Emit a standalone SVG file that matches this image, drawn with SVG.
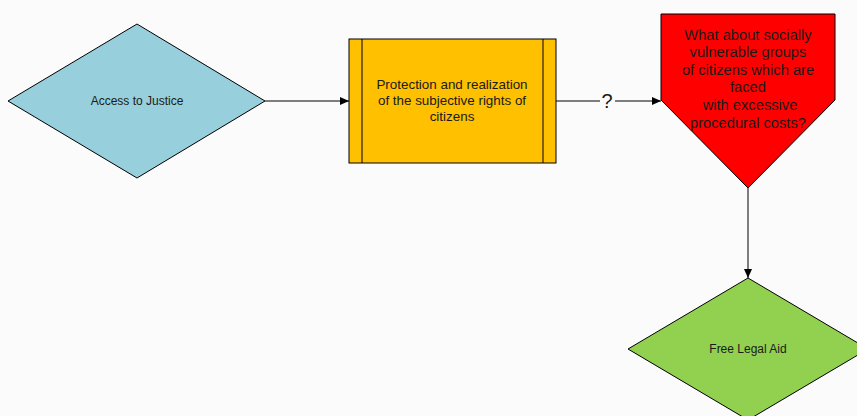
<svg xmlns="http://www.w3.org/2000/svg" width="857" height="416" viewBox="0 0 857 416">
<style>
.shape{stroke:#000;stroke-width:1}
.t{font-family:"Liberation Sans",Arial,sans-serif;fill:#1a1a1a;text-anchor:middle}
.conn{stroke:#000;stroke-width:1;fill:none}
</style>
<defs>
<marker id="arr" markerWidth="10" markerHeight="8" refX="9" refY="4" orient="auto" markerUnits="userSpaceOnUse">
<path d="M0,0 L9,4 L0,8 Z" fill="#000"/>
</marker>
</defs>
<rect width="857" height="416" fill="#fbfbfb"/>
<g id="connectors">
<line class="conn" x1="265" y1="101" x2="349" y2="101" marker-end="url(#arr)"/>
<line class="conn" x1="556" y1="101" x2="600" y2="101"/>
<text class="t" x="607" y="108" font-size="20">?</text>
<line class="conn" x1="615" y1="101" x2="661" y2="101" marker-end="url(#arr)"/>
<line class="conn" x1="748" y1="188" x2="748" y2="278" marker-end="url(#arr)"/>
</g>
<g id="access">
<polygon class="shape" points="8,101 137,24 265,101 137,178" fill="#97CFDC"/>
<text class="t" x="137" y="105" font-size="12">Access to Justice</text>
</g>
<g id="protection">
<rect class="shape" x="349" y="39" width="207" height="124" fill="#FFC000"/>
<line class="shape" x1="362" y1="39" x2="362" y2="163"/>
<line class="shape" x1="543" y1="39" x2="543" y2="163"/>
<text class="t" font-size="13.4"><tspan x="452" y="89">Protection and realization</tspan><tspan x="452" y="105">of the subjective rights of</tspan><tspan x="452" y="121">citizens</tspan></text>
</g>
<g id="question">
<polygon class="shape" points="661,14 835,14 835,100 748,188 661,100" fill="#FF0000"/>
<text class="t" font-size="14.7"><tspan x="748" y="40">What about socially</tspan><tspan x="748" y="57">vulnerable groups</tspan><tspan x="748" y="75">of citizens which are</tspan><tspan x="748" y="92">faced</tspan><tspan x="750" y="110">with excessive</tspan><tspan x="748" y="128">procedural costs?</tspan></text>
</g>
<g id="legalaid">
<polygon class="shape" points="748,278 868,349 748,420 628,349" fill="#92D050"/>
<text class="t" x="748" y="353" font-size="12">Free Legal Aid</text>
</g>
</svg>
